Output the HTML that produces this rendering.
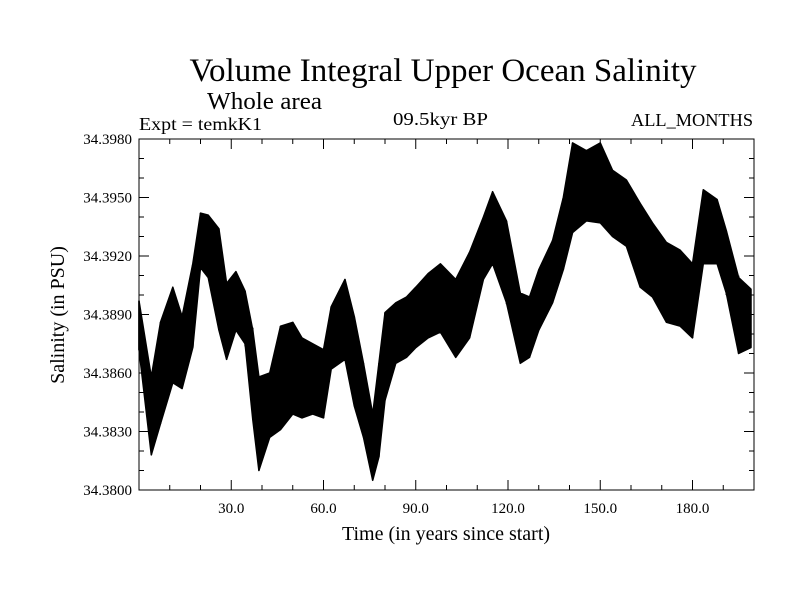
<!DOCTYPE html>
<html><head><meta charset="utf-8"><style>
html,body{margin:0;padding:0;background:#fff;}
svg{display:block;font-family:"Liberation Serif",serif;}
</style></head><body>
<svg id="chart" width="800" height="600" viewBox="0 0 800 600">
<rect x="0" y="0" width="800" height="600" fill="#fff"/>
<text x="443" y="81" font-size="33" text-anchor="middle">Volume Integral Upper Ocean Salinity</text>
<text x="207" y="109" font-size="24" textLength="115" lengthAdjust="spacingAndGlyphs">Whole area</text>
<text x="139" y="130" font-size="18" textLength="123" lengthAdjust="spacingAndGlyphs">Expt = temkK1</text>
<text x="393" y="125" font-size="18" textLength="95" lengthAdjust="spacingAndGlyphs">09.5kyr BP</text>
<text x="631" y="126" font-size="18" textLength="122" lengthAdjust="spacingAndGlyphs">ALL_MONTHS</text>
<g id="plot"></g>
<text x="446" y="540" font-size="20" text-anchor="middle">Time (in years since start)</text>
<text transform="translate(64,315) rotate(-90)" font-size="20" text-anchor="middle">Salinity (in PSU)</text>
</svg>
<script>
const times=[0,4,7,11,14,17.5,20,22.5,26,28.5,31.5,34.5,37,39,42.5,46,50,53,56.5,60,62.5,67,70,73,76,78,80,83.5,87,90,94,98,103,107.5,112,115,119.5,124,127,130,134.5,138,141,145.5,150,154,158.5,163,167,171.5,176,180,183.5,188,191,195,199];
const highVals=[34.3897,34.3858,34.3886,34.3904,34.3889,34.3916,34.3942,34.3941,34.3934,34.3906,34.3912,34.3902,34.3882,34.3858,34.3860,34.3884,34.3886,34.3878,34.3875,34.3872,34.3894,34.3908,34.3889,34.3865,34.3839,34.3865,34.3891,34.3896,34.3899,34.3904,34.3911,34.3916,34.3908,34.3922,34.3940,34.3953,34.3938,34.3901,34.3899,34.3913,34.3928,34.3950,34.3978,34.3974,34.3978,34.3964,34.3959,34.3947,34.3937,34.3927,34.3923,34.3916,34.3954,34.3949,34.3933,34.3909,34.3903];
const lowVals=[34.3872,34.3818,34.3834,34.3855,34.3852,34.3873,34.3914,34.3909,34.3882,34.3867,34.3882,34.3875,34.3836,34.3810,34.3827,34.3831,34.3839,34.3837,34.3839,34.3837,34.3862,34.3867,34.3843,34.3827,34.3805,34.3817,34.3846,34.3865,34.3868,34.3873,34.3878,34.3881,34.3868,34.3878,34.3908,34.3916,34.3896,34.3865,34.3868,34.3882,34.3896,34.3913,34.3932,34.3938,34.3937,34.3930,34.3925,34.3904,34.3899,34.3886,34.3884,34.3878,34.3916,34.3916,34.3901,34.3870,34.3873];
const yTicks=[34.380,34.383,34.386,34.389,34.392,34.395,34.398];
const xTicks=[30,60,90,120,150,180];

const L=139,R=754,T=139,B=490,X0=0,X1=200,Y0=34.380,Y1=34.398;
const NS="http://www.w3.org/2000/svg";
const sx=v=>L+(v-X0)/(X1-X0)*(R-L);
const sy=v=>B-(v-Y0)/(Y1-Y0)*(B-T);
const g=document.getElementById('plot');
function mk(tag,attrs){const e=document.createElementNS(NS,tag);for(const k in attrs)e.setAttribute(k,attrs[k]);g.appendChild(e);return e;}

let pts=[];
times.forEach((t,i)=>pts.push(sx(t).toFixed(1)+','+sy(highVals[i]).toFixed(1)));
for(let i=times.length-1;i>=0;i--)pts.push(sx(times[i]).toFixed(1)+','+sy(lowVals[i]).toFixed(1));
const band=mk('polygon',{points:pts.join(' '),fill:'#000',stroke:'#000','stroke-width':1.5,'stroke-linejoin':'round'});


let zz=[];
times.forEach((t,i)=>{zz.push(sx(t).toFixed(1)+','+sy(highVals[i]).toFixed(1));zz.push(sx(t).toFixed(1)+','+sy(lowVals[i]).toFixed(1));});
const line=mk('polyline',{points:zz.join(' '),fill:'none',stroke:'#000','stroke-width':1.5});



const fr=mk('rect',{x:L,y:T,width:R-L,height:B-T,fill:'none',stroke:'#000','stroke-width':1});



for(let t=10;t<X1;t+=10){
  const major=(t%30===0);const len=major?10:5;const x=sx(t);
  const a=mk('line',{x1:x,x2:x,y1:B,y2:B-len,stroke:'#000','stroke-width':1});
  
  
  const b=mk('line',{x1:x,x2:x,y1:T,y2:T+len,stroke:'#000','stroke-width':1});
  
  
}
xTicks.forEach(t=>{
  const tx=mk('text',{x:sx(t),y:B+23,'font-size':15,'text-anchor':'middle'});
  tx.textContent=t.toFixed(1);
  
  
});
for(let k=1;k<18;k++){
  const v=Y0+k*0.001;const major=(k%3===0);const len=major?10:5;const y=sy(v);
  const a=mk('line',{x1:L,x2:L+len,y1:y,y2:y,stroke:'#000','stroke-width':1});
  
  
  const b=mk('line',{x1:R,x2:R-len,y1:y,y2:y,stroke:'#000','stroke-width':1});
  
  
}
yTicks.forEach(v=>{
  const tx=mk('text',{x:L-7,y:sy(v)+5,'font-size':15,'text-anchor':'end'});
  tx.textContent=v.toFixed(4);
  
  
});
</script>
</body></html>
